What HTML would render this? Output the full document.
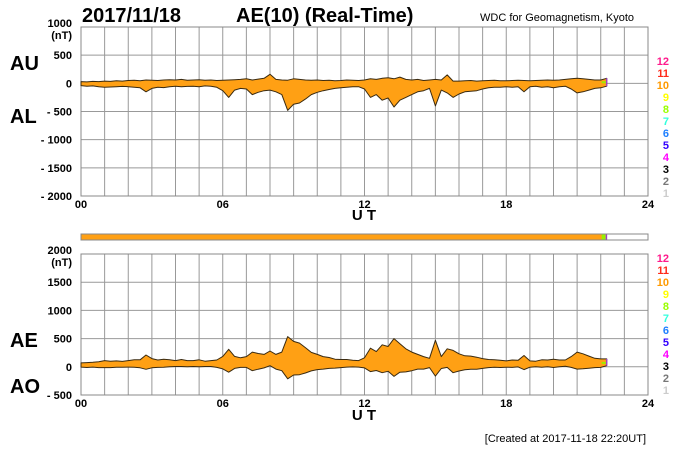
<!DOCTYPE html>
<html><head><meta charset="utf-8">
<style>
body{margin:0;background:#fff;}
svg{display:block;font-family:"Liberation Sans",sans-serif;}
.t{font-weight:bold;font-size:11px;fill:#000;}
</style></head>
<body>
<svg id="c" width="700" height="450" viewBox="0 0 700 450">
<text x="82" y="22" font-size="20" font-weight="bold">2017/11/18</text>
<text x="236" y="22" font-size="20" font-weight="bold">AE(10) (Real-Time)</text>
<text x="480" y="21" font-size="11">WDC for Geomagnetism, Kyoto</text>
<text x="10" y="70" font-size="20" font-weight="bold">AU</text>
<text x="10" y="123" font-size="20" font-weight="bold">AL</text>
<text x="10" y="347" font-size="20" font-weight="bold">AE</text>
<text x="10" y="393" font-size="20" font-weight="bold">AO</text>
<text x="364" y="220" font-size="15" font-weight="bold" text-anchor="middle">U T</text>
<text x="364" y="420" font-size="15" font-weight="bold" text-anchor="middle">U T</text>
<text x="646" y="442" font-size="11" text-anchor="end">[Created at 2017-11-18 22:20UT]</text>
<g id="g"></g>
</svg>
<script>
const hours=[];for(let i=0;i<90;i++)hours.push(i*0.25);
const auValues=[30,25,35,30,40,35,45,40,
50,55,45,60,55,50,60,65,
60,70,55,60,65,55,60,50,
55,60,65,70,80,60,75,90,
160,70,60,55,80,70,60,55,
60,50,55,45,50,60,55,50,
60,80,70,90,100,80,110,70,
60,70,50,60,70,60,150,40,
40,45,50,40,45,50,55,45,
45,50,55,50,45,50,55,60,
55,60,70,80,90,80,70,60,
60,90];
const alValues=[-40,-50,-45,-60,-70,-65,-60,-55,
-60,-70,-80,-150,-90,-70,-75,-60,
-50,-60,-55,-50,-60,-45,-50,-70,
-130,-250,-120,-90,-100,-200,-160,-130,
-120,-150,-200,-480,-370,-350,-280,-200,
-160,-130,-110,-90,-80,-70,-60,-60,
-100,-250,-200,-300,-260,-420,-300,-250,
-200,-150,-130,-90,-400,-120,-170,-250,
-190,-150,-140,-130,-100,-80,-70,-70,
-60,-70,-60,-150,-60,-50,-70,-60,
-80,-60,-50,-100,-170,-150,-120,-90,
-80,-50];
const topTicks=[1000,500,0,-500,-1000,-1500,-2000];
const botTicks=[2000,1500,1000,500,0,-500];
const xTicks=[0,6,12,18,24];
const legendNums=["12","11","10","9","8","7","6","5","4","3","2","1"];
const legendColors=["#ff1a8c","#ff2a1a","#ff9a00","#ffff00","#99ff00","#33ffdd","#1e7fff","#3300ff","#ff00ff","#000000","#777777","#cccccc"];

const NS="http://www.w3.org/2000/svg";const G=document.getElementById('g');
function mk(t,a,name,p){const e=document.createElementNS(NS,t);for(const k in a)e.setAttribute(k,a[k]);


(p||G).appendChild(e);return e;}
const X0=81,X1=648;const xs=h=>X0+(X1-X0)*h/24;
function panel(top,bot,vmax,vmin,ticks,upper,lower,pfx,nt){
  const ys=v=>top+(bot-top)*(vmax-v)/(vmax-vmin);
  for(let h=0;h<=24;h++)mk('line',{x1:xs(h),x2:xs(h),y1:top,y2:bot,stroke:'#999','stroke-width':1},pfx+'-v-grid');
  ticks.forEach((v,i)=>{mk('line',{x1:X0,x2:X1,y1:ys(v),y2:ys(v),stroke:'#999','stroke-width':1},pfx+'-h-grid');
    const lbl=v<0?'- '+(-v):String(v);
    const t=mk('text',{x:72,y:ys(v)+(i==0?0:4),'text-anchor':'end',class:'t'},pfx+'-y-tick');t.textContent=lbl;
    if(i==0){const u=mk('text',{x:72,y:ys(v)+12,'text-anchor':'end',class:'t'},pfx+'-y-unit');u.textContent='(nT)';}
  });
  mk('rect',{x:X0,y:top,width:X1-X0,height:bot-top,fill:'none',stroke:'#888'},pfx+'-frame');
  xTicks.forEach(h=>{const t=mk('text',{x:xs(h),y:bot+12,'text-anchor':'middle',class:'t'},pfx+'-x-tick');t.textContent=String(h).padStart(2,'0');});
  let d='';upper.forEach((v,i)=>{d+=(i?'L':'M')+xs(hours[i]).toFixed(1)+' '+ys(v).toFixed(1);});
  for(let i=lower.length-1;i>=0;i--)d+='L'+xs(hours[i]).toFixed(1)+' '+ys(lower[i]).toFixed(1);
  mk('path',{d:d+'Z',fill:'#ffa014',stroke:'#3a2a10','stroke-width':1,'stroke-linejoin':'round'},pfx+'-area');
  const n=hours.length-1;
  mk('rect',{x:xs(hours[n])-5,y:ys(upper[n])+3,width:5,height:Math.max(2,ys(lower[n])-ys(upper[n])-6),fill:'#99ee00'},pfx+'-latest-segment');
  mk('line',{x1:xs(hours[n]),x2:xs(hours[n]),y1:ys(upper[n]),y2:ys(lower[n]),stroke:'#a040c0','stroke-width':1.5},pfx+'-latest-mark');
  legendNums.forEach((s,i)=>{const t=mk('text',{x:669,y:nt+i*12,'text-anchor':'end',class:'t',fill:legendColors[i]},pfx+'-legend-entry');t.setAttribute('style','fill:'+legendColors[i]);t.textContent=s;});
}
panel(27,196,1000,-2000,topTicks,auValues,alValues,'top',65);
const aeValues=auValues.map((u,i)=>u-alValues[i]);
const aoValues=auValues.map((u,i)=>(u+alValues[i])/2);
panel(254,395,2000,-500,botTicks,aeValues,aoValues,'bottom',262);
// station bar
mk('rect',{x:X0,y:234,width:X1-X0,height:6,fill:'#fff',stroke:'#888'},'station-bar-frame');
mk('rect',{x:X0+0.5,y:234.5,width:xs(hours[hours.length-1])-5-X0,height:5,fill:'#ffa014'},'station-bar-fill');
mk('rect',{x:xs(hours[hours.length-1])-5,y:234.5,width:4,height:5,fill:'#99ee00'},'station-bar-latest');
mk('rect',{x:xs(hours[hours.length-1])-1,y:234.5,width:1.5,height:5,fill:'#a040c0'},'station-bar-mark');
</script>
</body></html>
